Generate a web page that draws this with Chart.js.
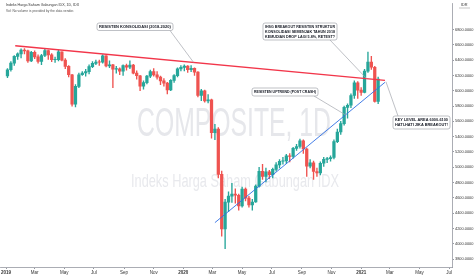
<!DOCTYPE html>
<html>
<head>
<meta charset="utf-8">
<script src="https://cdn.jsdelivr.net/npm/chart.js@4.4.1/dist/chart.umd.min.js"></script>
<style>
  html, body { margin: 0; padding: 0; background: #fff; }
</style>
</head>
<body>
<canvas id="myChart" width="474" height="279"></canvas>
<script>
// weekly bars of IHSG (COMPOSITE), first bar = week of 1 Jan 2019
const firstBarDay = 3;   // days after 2019-01-01
const barStep = 7;
const wkOpen = [6195,6274,6361,6448,6482,6532,6521,6389,6501,6443,6383,6461,6525,6469,6405,6405,6507,6401,6319,6209,
  5826,6057,6209,6232,6250,6315,6358,6373,6372,6456,6325,6340,6282,6286,6255,6328,6308,6334,6231,6196,
  6061,6107,6191,6252,6207,6177,6128,6100,6011,6135,6197,6285,6305,6323,6274,6292,6244,5940,5999,5866,
  5882,5452,5498,4907,4195,4545,4623,4649,4635,4496,4716,4597,4507,4546,4754,4947,4880,4942,4904,4973,
  5031,5079,5082,5149,5143,5247,5272,5346,5239,5016,5059,4945,4926,5053,5103,5112,5128,5335,5461,5571,
  5783,5810,5938,6104,6009,5979,6257,6373,6307,5862];
const wkHigh = [6290,6380,6460,6495,6547,6550,6530,6515,6520,6470,6475,6540,6530,6485,6440,6530,6510,6420,6330,6215,
  6080,6230,6250,6280,6340,6380,6400,6400,6470,6460,6390,6345,6320,6300,6340,6350,6390,6345,6260,6200,
  6130,6200,6270,6290,6250,6190,6160,6110,6145,6210,6300,6330,6340,6330,6330,6300,6250,6020,6010,5950,
  5890,5560,5520,4950,4580,4680,4790,4720,4650,4740,4730,4620,4580,4770,5000,5040,4990,4960,4990,5060,
  5100,5130,5170,5180,5260,5300,5370,5360,5250,5100,5080,4990,5070,5130,5130,5150,5360,5500,5600,5800,
  5830,5960,6130,6120,6040,6280,6505,6450,6320,6180];
const wkLow = [6170,6255,6330,6410,6430,6480,6370,6380,6420,6360,6340,6445,6410,6380,6370,6390,6390,6290,6180,5800,
  5790,6040,6200,6190,6220,6300,6340,6330,6360,6310,6300,6040,6230,6210,6200,6270,6290,6220,6150,6000,
  6020,6090,6170,6190,6150,6080,6060,5960,6000,6110,6180,6260,6260,6240,6250,6200,5920,5870,5850,5840,
  5380,5360,4860,4100,3937,4420,4540,4530,4440,4480,4560,4480,4440,4540,4740,4840,4810,4850,4860,4950,
  4990,5040,5050,5070,5120,5220,5250,5180,4880,4990,4840,4880,4900,5010,5060,5080,5110,5320,5430,5550,
  5640,5780,5900,5900,5940,5970,6240,6280,5850,5830];
const wkClose = [6274,6361,6448,6482,6532,6521,6389,6501,6443,6383,6461,6525,6469,6405,6405,6507,6401,6319,6209,5826,
  6057,6209,6232,6250,6315,6358,6373,6372,6456,6325,6340,6282,6286,6255,6328,6308,6334,6231,6196,6061,
  6107,6191,6252,6207,6177,6128,6100,6011,6135,6197,6285,6305,6323,6274,6292,6244,5940,5999,5866,5882,
  5452,5498,4907,4195,4545,4623,4649,4635,4496,4716,4597,4507,4546,4754,4947,4880,4942,4904,4973,5031,
  5079,5082,5149,5143,5247,5272,5346,5239,5016,5059,4945,4926,5053,5103,5112,5128,5335,5461,5571,5783,
  5810,5938,6104,6009,5979,6257,6373,6307,5862,6152];

// axis ticks
const tickDays = [0,59,120,181,243,304,365,425,486,547,609,670,731,790,851,912];
const tickLabels = ['2019','Mar','May','Jul','Sep','Nov','2020','Mar','May','Jul','Sep','Nov','2021','Mar','May','Jul'];
const priceTicks = [3800,4000,4200,4400,4600,4800,5000,5200,5400,5600,5800,6000,6200,6400,6600,6800];

// drawn trendlines (day, price)
const resistLine = [{x: 19, y: 6587}, {x: 780, y: 6135}];
const uptrendLine = [{x: 430, y: 4277}, {x: 780, y: 6110}];

const upColor = '#26a69a';
const downColor = '#ef5350';

const barDays = wkClose.map((c, i) => firstBarDay + i * barStep);
const candleColors = wkClose.map((c, i) => c >= wkOpen[i] ? upColor : downColor);
const wicks = barDays.map((d, i) => ({x: d, y: [wkLow[i], wkHigh[i]]}));
const bodies = barDays.map((d, i) => {
  let lo = Math.min(wkOpen[i], wkClose[i]);
  let hi = Math.max(wkOpen[i], wkClose[i]);
  if (hi - lo < 6) hi = lo + 6;
  return {x: d, y: [lo, hi]};
});

// callouts: box in pixels, target in chart coordinates
const notes = [
  {box: [97, 23, 76, 7.5], lines: ['RESISTEN KONSOLIDASI (2018-2020)'], from: [170, 30.5], to: {x: 386, y: 6371}},
  {box: [263, 23, 74, 17], lines: ['IHSG BREAKOUT RESISTEN STRUKTUR', 'KONSOLIDASI SEMENJAK TAHUN 2018', 'KEMUDIAN DROP LAGI 5.8%, RETEST?'], from: [330, 40], to: {x: 742, y: 6160}},
  {box: [252, 88, 66, 8], lines: ['RESISTEN UPTREND (POST CRASH)'], from: [314, 96], to: {x: 700, y: 5680}},
  {box: [393, 116, 57, 13], lines: ['KEY LEVEL AREA 6000-6100', 'HATI-HATI JIKA BREAKOUT!'], from: [398, 116], to: {x: 782, y: 6118}}
];

const watermark = {
  id: 'watermark',
  beforeDatasetsDraw(chart) {
    const ctx = chart.ctx;
    ctx.save();
    ctx.fillStyle = '#e6e7eb';
    ctx.textBaseline = 'alphabetic';
    ctx.font = '40px "Liberation Sans", Arial, sans-serif';
    let t = 'COMPOSITE, 1D';
    let w = ctx.measureText(t).width;
    ctx.translate(137, 136);
    ctx.scale(194 / w, 1);
    ctx.fillText(t, 0, 0);
    ctx.restore();
    ctx.save();
    ctx.fillStyle = '#e8e9ed';
    ctx.font = '19px "Liberation Sans", Arial, sans-serif';
    t = 'Indeks Harga Saham Gabungan IDX';
    w = ctx.measureText(t).width;
    ctx.translate(131, 187);
    ctx.scale(208 / w, 1);
    ctx.fillText(t, 0, 0);
    ctx.restore();
  }
};

const callouts = {
  id: 'callouts',
  afterDatasetsDraw(chart) {
    const ctx = chart.ctx;
    const xs = chart.scales.x, ys = chart.scales.y;
    ctx.save();
    notes.forEach(n => {
      const tx = xs.getPixelForValue(n.to.x), ty = ys.getPixelForValue(n.to.y);
      ctx.strokeStyle = '#a3a6ae';
      ctx.lineWidth = 0.7;
      ctx.beginPath();
      ctx.moveTo(n.from[0], n.from[1]);
      ctx.lineTo(tx, ty);
      ctx.stroke();
      const [bx, by, bw, bh] = n.box;
      ctx.fillStyle = '#fff';
      ctx.beginPath();
      ctx.roundRect(bx, by, bw, bh, 2);
      ctx.fill();
      ctx.stroke();
      ctx.fillStyle = '#131722';
      ctx.font = 'bold 4px "Liberation Sans", Arial, sans-serif';
      ctx.textBaseline = 'middle';
      const lh = (bh - 2) / n.lines.length;
      n.lines.forEach((l, i) => {
        const w = ctx.measureText(l).width;
        const sx = Math.min(1, (bw - 4) / w);
        ctx.save();
        ctx.translate(bx + 2, by + 1 + lh * (i + 0.5));
        ctx.scale(sx, 1);
        ctx.fillText(l, 0, 0);
        ctx.restore();
      });
    });
    ctx.restore();
  }
};

const header = {
  id: 'header',
  afterDraw(chart) {
    const ctx = chart.ctx;
    ctx.save();
    ctx.textBaseline = 'middle';
    ctx.fillStyle = '#333';
    ctx.font = '3.6px "Liberation Sans", Arial, sans-serif';
    ctx.fillText('Indeks Harga Saham Gabungan IDX, 1D, IDX', 6, 5);
    ctx.fillStyle = '#555';
    ctx.font = '3.3px "Liberation Sans", Arial, sans-serif';
    ctx.fillText('Vol: No volume is provided by the data vendor.', 6, 11.5);
    ctx.fillStyle = '#333';
    ctx.font = '3.8px "Liberation Sans", Arial, sans-serif';
    ctx.fillText('IDR', 461, 5);
    ctx.strokeStyle = '#888';
    ctx.lineWidth = 0.5;
    ctx.beginPath();
    ctx.moveTo(459, 8);
    ctx.lineTo(470, 8);
    ctx.stroke();
    ctx.restore();
  }
};

new Chart(document.getElementById('myChart'), {
  data: {
    datasets: [
      {type: 'line', data: resistLine, borderColor: '#f2364a', borderWidth: 1.4, pointRadius: 0, order: 1},
      {type: 'line', data: uptrendLine, borderColor: '#2f6fe4', borderWidth: 0.9, pointRadius: 0, order: 1},
      {type: 'bar', data: bodies, backgroundColor: candleColors, barThickness: 2.6, grouped: false, order: 2},
      {type: 'bar', data: wicks, backgroundColor: candleColors, barThickness: 0.7, grouped: false, order: 3}
    ]
  },
  options: {
    responsive: false,
    animation: false,
    layout: {padding: 0},
    plugins: {legend: {display: false}, tooltip: {enabled: false}},
    scales: {
      x: {
        type: 'linear',
        offset: false,
        min: -12,
        max: 918,
        afterBuildTicks: s => { s.ticks = tickDays.map(v => ({value: v})); },
        afterFit: s => { s.height = 12; },
        grid: {drawOnChartArea: false, offset: false, tickLength: 2, color: '#9598a1'},
        border: {color: '#9598a1', width: 0.8},
        ticks: {
          autoSkip: false,
          maxRotation: 0,
          padding: 1,
          color: '#333',
          font: c => ({size: 4.5, family: '"Liberation Sans", Arial, sans-serif', weight: /^\d/.test(tickLabels[c.index] || '') ? 'bold' : 'normal'}),
          callback: (v, i) => tickLabels[i]
        }
      },
      y: {
        position: 'right',
        min: 3697,
        max: 7142,
        afterBuildTicks: s => { s.ticks = priceTicks.map(v => ({value: v})); },
        afterFit: s => { s.width = 22; },
        grid: {drawOnChartArea: false, tickLength: 2, color: '#9598a1'},
        border: {color: '#9598a1', width: 0.8},
        ticks: {
          padding: 1,
          color: '#333',
          font: {size: 3.9, family: '"Liberation Sans", Arial, sans-serif'},
          callback: v => v.toFixed(4)
        }
      }
    }
  },
  plugins: [watermark, callouts, header]
});
</script>
</body>
</html>
